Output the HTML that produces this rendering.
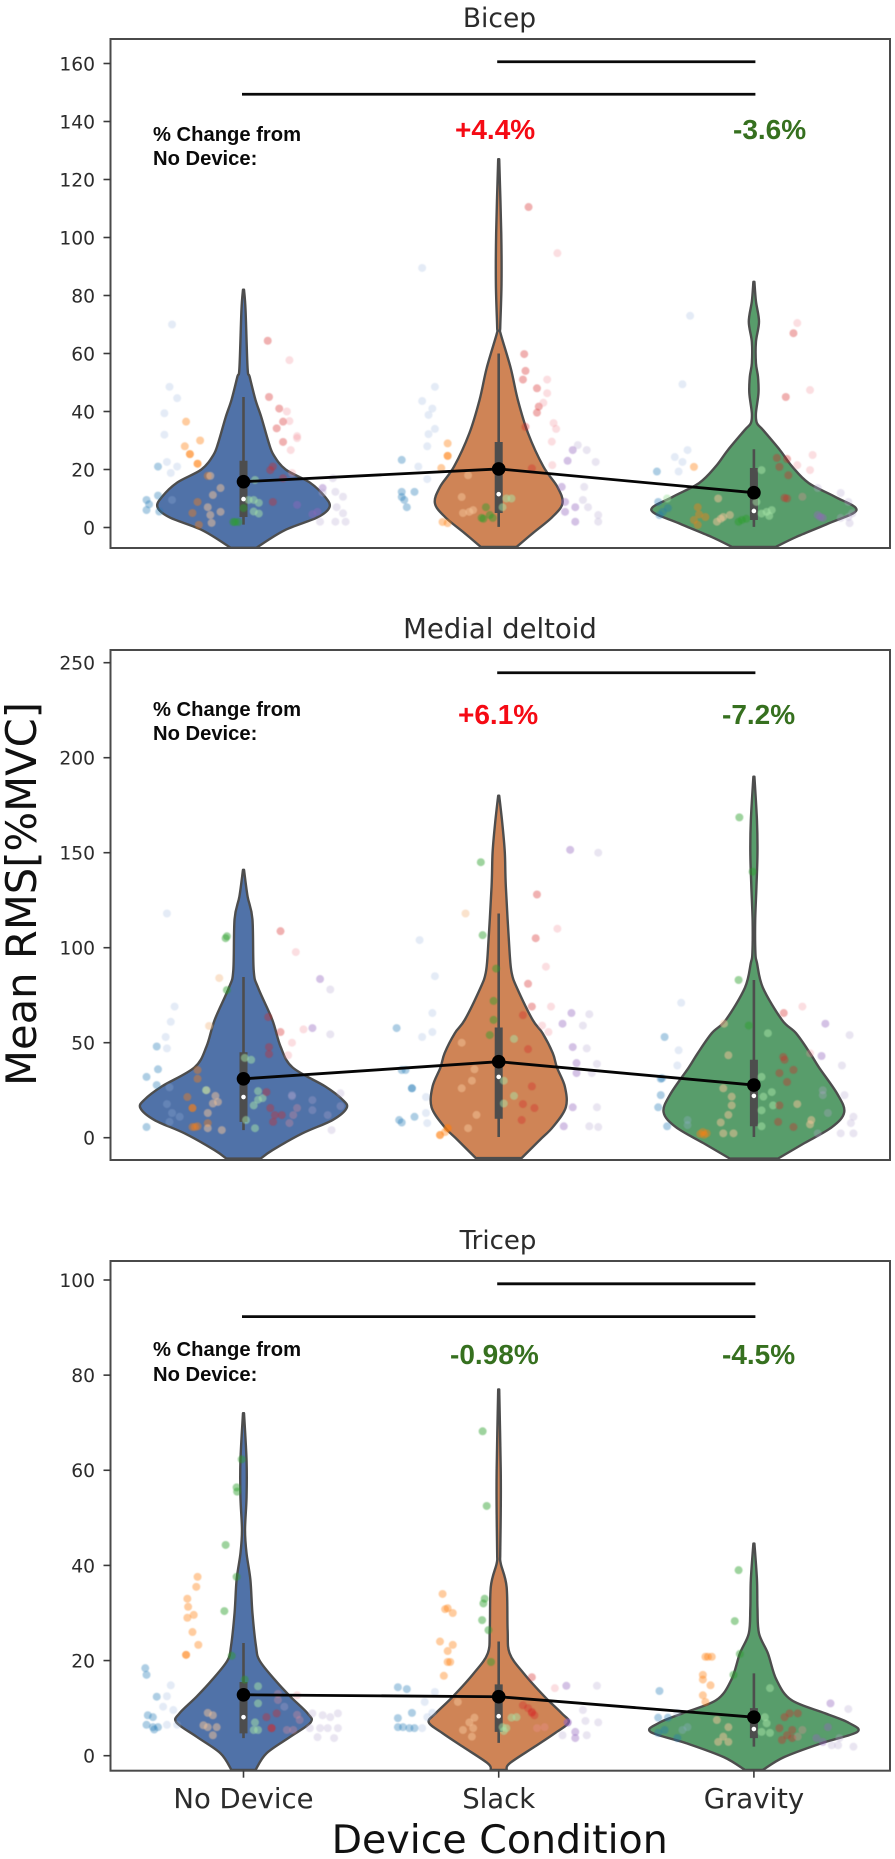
<!DOCTYPE html>
<html lang="en">
<head>
<meta charset="utf-8">
<title>Mean RMS by device condition</title>
<style>
html,body{margin:0;padding:0;background:#fff;}
svg{display:block;filter:blur(0.35px);}
.dj{font-family:"DejaVu Sans",sans-serif;fill:#2b2b2b;}
.lb{font-family:"Liberation Sans",Arial,sans-serif;font-weight:bold;}
.note{font-size:20.2px;fill:#0a0a0a;}
.pct{font-size:28px;}
.pts{filter:blur(0.4px);}
</style>
</head>
<body>
<svg id="chart" xmlns="http://www.w3.org/2000/svg" width="895" height="1859" viewBox="0 0 895 1859">
  <rect x="0" y="0" width="895" height="1859" fill="#ffffff"/>

  <g id="panel-bicep"></g>
  <g id="panel-deltoid"></g>
  <g id="panel-tricep"></g>

  <text class="dj" x="499.5" y="27" font-size="26.5" text-anchor="middle">Bicep</text>
  <text class="dj" x="500" y="638" font-size="27.5" text-anchor="middle">Medial deltoid</text>
  <text class="dj" x="498" y="1249" font-size="26" text-anchor="middle">Tricep</text>

  <g>
    <text class="lb note" x="153" y="141">% Change from</text>
    <text class="lb note" x="153" y="165">No Device:</text>
    <text class="lb pct" x="455" y="139" fill="#f50a14">+4.4%</text>
    <text class="lb pct" x="733" y="139" fill="#36701f">-3.6%</text>
  </g>
  <g>
    <text class="lb note" x="153" y="716">% Change from</text>
    <text class="lb note" x="153" y="740">No Device:</text>
    <text class="lb pct" x="458" y="724" fill="#f50a14">+6.1%</text>
    <text class="lb pct" x="722" y="724" fill="#36701f">-7.2%</text>
  </g>
  <g>
    <text class="lb note" x="153" y="1356">% Change from</text>
    <text class="lb note" x="153" y="1381">No Device:</text>
    <text class="lb pct" x="450" y="1364" fill="#36701f">-0.98%</text>
    <text class="lb pct" x="722" y="1364" fill="#36701f">-4.5%</text>
  </g>

  <text class="dj" x="243.5" y="1808" font-size="27.5" text-anchor="middle">No Device</text>
  <text class="dj" x="498.7" y="1808" font-size="27.5" text-anchor="middle">Slack</text>
  <text class="dj" x="754" y="1808" font-size="27.5" text-anchor="middle">Gravity</text>
  <text class="dj" x="499.7" y="1853" font-size="39.5" text-anchor="middle" style="fill:#111">Device Condition</text>
  <text class="dj" transform="translate(36 894) rotate(-90)" x="0" y="0" font-size="41.7" text-anchor="middle" style="fill:#111">Mean RMS[%MVC]</text>
</svg>

<script>
/* ---------- tick labels and shared categories ---------- */
const categories = ['No Device', 'Slack', 'Gravity'];
const bicepTicks = [0, 20, 40, 60, 80, 100, 120, 140, 160];
const deltoidTicks = [0, 50, 100, 150, 200, 250];
const tricepTicks = [0, 20, 40, 60, 80, 100];

/* ---------- mean / box statistics, one value per category ---------- */
const bicepMeans = [15.8, 20.2, 12];
const bicepMedians = [9.8, 11.5, 5.7];
const bicepQ1 = [3.6, 5, 2.6];
const bicepQ3 = [23, 29.5, 20.5];
const bicepWhiskerLow = [1, 0.2, 0.2];
const bicepWhiskerHigh = [45, 60, 27];

const deltoidMeans = [31, 40, 27.7];
const deltoidMedians = [21.4, 32, 22];
const deltoidQ1 = [8.3, 10, 6];
const deltoidQ3 = [45, 58, 41];
const deltoidWhiskerLow = [4, 0.4, 0.4];
const deltoidWhiskerHigh = [84.6, 118, 83];

const tricepMeans = [12.8, 12.4, 8.1];
const tricepMedians = [8.1, 8.3, 5.6];
const tricepQ1 = [4.7, 5, 3.7];
const tricepQ3 = [15.5, 15, 10];
const tricepWhiskerLow = [3.7, 2.7, 1.9];
const tricepWhiskerHigh = [23.7, 24, 17.3];

/* ---------- significance bars: [from category, to category, height in %MVC] ---------- */
const bicepSigBars = [[0, 2, 149.4], [1, 2, 160.6]];
const deltoidSigBars = [[1, 2, 244.7]];
const tricepSigBars = [[0, 2, 92.3], [1, 2, 99.2]];

/* ---------- violin density profiles: level (%MVC) and half-width (category units) ---------- */
const bicepNoDeviceLevels = [82, 75, 55, 52, 44, 38, 29.5, 25, 20, 15.5, 10.5, 7, 3.5, -1, -7];
const bicepNoDeviceWidths = [0.002, 0.008, 0.016, 0.024, 0.047, 0.07, 0.098, 0.118, 0.165, 0.26, 0.32, 0.337, 0.29, 0.16, 0.05];
const bicepSlackLevels = [127, 101.5, 84, 69, 67, 55, 44, 32.5, 21, 14, 8.4, 3.6, -2, -6.7];
const bicepSlackWidths = [0.002, 0.01, 0.011, 0.006, 0.007, 0.047, 0.075, 0.115, 0.175, 0.23, 0.25, 0.21, 0.133, 0.07];
const bicepGravityLevels = [84.7, 78, 71, 64, 56.7, 52, 46.4, 39.4, 36, 33.6, 26.7, 21, 15.3, 10.5, 6, 1.5, -3.3, -6.7];
const bicepGravityWidths = [0.002, 0.008, 0.02, 0.008, 0.008, 0.016, 0.018, 0.008, 0.012, 0.036, 0.102, 0.15, 0.215, 0.32, 0.402, 0.295, 0.165, 0.086];

const deltoidNoDeviceLevels = [141, 127, 115, 88, 79, 62, 48, 37, 27, 20, 15.6, 9.3, 2.3, -6.5, -11];
const deltoidNoDeviceWidths = [0.002, 0.016, 0.035, 0.04, 0.057, 0.113, 0.145, 0.192, 0.32, 0.388, 0.404, 0.349, 0.231, 0.114, 0.067];
const deltoidSlackLevels = [180, 165.6, 150, 132, 97, 86.6, 79, 62, 55, 44.5, 37, 27, 16, 5.6, -1.2, -10.7];
const deltoidSlackWidths = [0.002, 0.014, 0.024, 0.028, 0.043, 0.051, 0.071, 0.133, 0.172, 0.212, 0.228, 0.259, 0.263, 0.212, 0.161, 0.09];
const deltoidGravityLevels = [190, 167, 150, 132, 114, 97, 92, 79, 62, 55, 44.5, 37, 23, 13.5, 5.6, -3, -11];
const deltoidGravityWidths = [0.002, 0.012, 0.014, 0.01, 0.005, 0.006, 0.012, 0.035, 0.11, 0.165, 0.22, 0.255, 0.327, 0.354, 0.306, 0.196, 0.094];

const tricepNoDeviceLevels = [72, 62, 54.4, 47.4, 42.5, 37, 30, 23, 20, 16, 12.4, 8.9, 7, 4, 0.5, -3];
const tricepNoDeviceWidths = [0.002, 0.012, 0.012, 0.006, 0.012, 0.027, 0.035, 0.049, 0.063, 0.122, 0.184, 0.251, 0.263, 0.184, 0.09, 0.047];
const tricepSlackLevels = [77, 60, 51, 42.5, 40.4, 35.5, 26.4, 21.5, 17.3, 12.4, 8.9, 7, 4.7, 1.9, -1.6, -3];
const tricepSlackWidths = [0.002, 0.008, 0.008, 0.006, 0.008, 0.031, 0.035, 0.043, 0.098, 0.18, 0.247, 0.274, 0.219, 0.141, 0.043, 0.031];
const tricepGravityLevels = [44.6, 37, 31, 25.7, 21.5, 16, 11.7, 8.9, 6.9, 5, 2.6, -0.3, -3];
const tricepGravityWidths = [0.002, 0.012, 0.014, 0.02, 0.055, 0.088, 0.147, 0.28, 0.372, 0.405, 0.263, 0.118, 0.035];

/* ---------- raw points: [subject, jitter (category units), value %MVC] ---------- */
const bicepNoDevicePoints = [
[0,-.335,21],[0,-.38,9.5],[0,-.38,6],[0,-.335,11],[0,-.33,5.5],[0,-.37,8],
[1,-.28,70],[1,-.29,48.5],[1,-.26,44.6],[1,-.31,39.4],[1,-.31,32],[1,-.3,22.6],[1,-.285,18.8],[1,-.26,21],[1,-.28,9.5],
[2,-.225,36.5],[2,-.17,30],[2,-.23,28],[2,-.21,25.3],[2,-.21,25.3],[2,-.18,22],[2,-.18,22],[2,-.14,17.8],[2,-.18,8.8],[2,-.2,5],[2,-.175,.9],
[3,-.13,17.8],[3,-.09,13.6],[3,-.12,11.2],[3,-.14,7],[3,-.13,4.3],[3,-.09,5.4],[3,-.125,1.6],
[4,-.033,1.9],[4,-.04,1.9],[4,-.02,1.9],[4,0,6.7],[5,.04,9.5],[5,.06,8.5],[5,.04,5.5],[5,.06,4.8],[5,.02,9.5],[5,.045,16.4],
[6,.095,64.4],[6,.1,45],[6,.14,41],[6,.155,36.5],[6,.13,34.2],[6,.155,29.5],[6,.115,21],[6,.105,19.8],[6,.155,17],[6,.115,8.8],
[7,.18,57.7],[7,.17,40],[7,.18,36.7],[7,.21,31.5],[7,.21,30.8],[7,.185,26.7],[7,.19,18.8],
[8,.21,7.8],[8,.29,5.4],[8,.27,4.6],[8,.31,13.6],[9,.35,17],[9,.36,12.3],[9,.39,10.6],[9,.365,7],[9,.39,4.9],[9,.4,2],[9,.36,2],[9,.3,2],[9,.31,12]
];
const bicepSlackPoints = [
[1,-.3,89.5],[1,-.25,48.5],[1,-.3,43.6],[1,-.26,41],[1,-.275,38.8],[1,-.25,34],[1,-.275,32.2],[1,-.28,28],[1,-.315,21],[1,-.28,16.7],
[0,-.38,23.3],[0,-.38,12.3],[0,-.37,9.5],[0,-.38,10.5],[0,-.36,7],[0,-.33,12.3],
[2,-.2,29],[2,-.2,24.7],[2,-.2,24.7],[2,-.225,20.5],[3,-.12,18],[3,-.145,10.5],[2,-.22,1.9],[2,-.2,1.5],[3,-.14,5],[3,-.115,5.4],[3,-.1,6],
[4,-.05,7],[4,-.035,4.3],[4,-.067,3.3],[4,-.023,3.3],[4,-.06,3],[5,.05,10],[5,.015,7],[5,.03,10],
[6,.117,110.5],[6,.1,59.8],[6,.105,54],[6,.095,51],[6,.15,48],[6,.157,41.7],[6,.15,39.6],[6,.105,34.7],[6,.13,20.4],
[7,.23,94.6],[7,.19,51],[7,.19,46.3],[7,.175,43],[7,.215,36],[7,.225,34],[7,.208,29.6],[7,.21,21.5],
[9,.31,28.4],[8,.29,26.7],[9,.345,26.7],[8,.27,23],[9,.38,22.6],[8,.247,14],[9,.335,14],[8,.26,8.8],[8,.26,5.4],[8,.3,7],[9,.33,9.5],[9,.35,7],[8,.3,2],[9,.39,4.3],[9,.39,2]
];
const bicepGravityPoints = [
[1,-.25,73],[1,-.28,49.4],[1,-.26,26.7],[1,-.31,24.3],[1,-.28,22.6],[1,-.295,19.3],
[0,-.38,19.3],[0,-.375,8.8],[0,-.357,5.4],[0,-.337,6.7],[0,-.37,4.3],
[2,-.235,20.9],[2,-.22,7],[2,-.215,4.5],[2,-.22,.9],[2,-.19,3.6],[2,-.235,2.6],[3,-.145,2],[3,-.12,3.6],[3,-.094,4.3],[3,-.14,10],[3,-.13,3],
[4,-.047,2.6],[4,-.03,3],[4,-.06,2],[5,.03,19.8],[5,.01,8.8],[5,.05,5.4],[5,.03,4.8],[5,.07,6],[5,.06,4],[5,-.34,10],
[7,.17,70.5],[6,.155,67],[7,.22,47.4],[6,.125,45],[7,.23,25],[6,.09,24],[6,.13,23.6],[6,.1,20.9],[6,.135,18],[7,.17,21.5],[7,.22,19.8],[6,.12,10.2],[6,.13,10],[7,.19,10.6],
[9,.25,13.6],[9,.34,11.9],[8,.26,3.6],[8,.27,3.3],[8,.25,4.3],[9,.34,3.3],[9,.37,3.6],[9,.385,4.9],[9,.37,8.8],[9,.375,1.5]
];
const deltoidNoDevicePoints = [
[0,-.34,48],[0,-.335,36],[0,-.38,32],[0,-.34,27.7],[0,-.38,5.6],
[1,-.3,118],[1,-.27,69],[1,-.285,61],[1,-.305,53],[1,-.3,47],[1,-.29,26.5],[1,-.3,17.7],[1,-.28,13],[1,-.25,11],[1,-.29,8.3],
[3,-.095,84],[3,-.135,58.8],[2,-.18,35.6],[2,-.18,31],[2,-.22,21.4],[2,-.2,15.6],[2,-.2,15.6],[2,-.19,5.6],[2,-.2,5.6],[2,-.18,6],[2,-.14,7.7],
[3,-.145,25],[3,-.11,22],[3,-.1,18.8],[3,-.12,18],[3,-.14,13],[3,-.14,5],[3,-.085,4],
[4,-.065,106],[4,-.07,105],[4,-.065,77.7],[5,.005,42],[5,.03,41],[5,-.147,25],[5,.01,9.3],[5,.045,5],[5,.04,17],[5,.057,20],[5,.075,20.8],[5,.057,24.5],
[6,.145,108.7],[7,.205,97.7],[6,.097,63.5],[6,.145,55.6],[7,.19,50],[7,.235,57],[6,.1,47.7],[6,.1,44],[7,.175,43.4],[6,.09,24],[6,.105,15.6],[6,.123,11.9],[6,.15,11.9],[6,.116,8.3],[7,.21,15.6],[7,.195,11.9],[7,.18,7.7],
[8,.3,83.5],[9,.34,78],[8,.27,57.7],[9,.34,54.4],[9,.19,22.4],[9,.19,21.8],[9,.27,19.8],[9,.27,14.5],[9,.38,23.4],[9,.38,16.6],[9,.33,11.9],[9,.345,4]
];
const deltoidSlackPoints = [
[0,-.4,57.7],[0,-.38,35.6],[0,-.365,35.6],[0,-.34,26],[0,-.34,26],[0,-.39,9.3],[0,-.38,8],[0,-.33,11],
[1,-.31,104],[1,-.25,85],[1,-.26,65.6],[1,-.26,55.6],[1,-.3,53],[1,-.285,21.4],[1,-.285,13],[1,-.28,7.7],
[2,-.23,1.4],[2,-.23,1.4],[2,-.21,3],[2,-.2,5],[2,-.2,5],[3,-.13,118],[3,-.145,50],[3,-.105,30],[3,-.145,26],[3,-.087,12],[3,-.12,5],[3,-.095,36],
[4,-.07,145],[4,-.063,106.6],[4,-.01,89],[4,-.02,72],[4,-.035,54],[4,-.02,62],[5,.06,52],[5,.02,30],[5,.06,22],[5,.02,18],
[6,.15,128],[6,.145,105],[7,.23,110],[7,.185,90],[6,.115,81],[6,.13,69],[7,.205,69],[6,.095,64.5],[7,.17,59],[7,.195,55.6],[6,.115,46.6],[6,.13,27],[6,.095,17.7],[6,.14,15.6],[6,.09,9.3],
[8,.28,151.5],[9,.39,150],[8,.285,65.6],[9,.355,65],[8,.25,60],[9,.33,59],[8,.29,47.7],[9,.345,47],[8,.305,39.3],[8,.305,34],[9,.385,38.8],[9,.365,34],[8,.29,16],[9,.385,16],[8,.255,6],[9,.355,6],[9,.39,5.6]
];
const deltoidGravityPoints = [
[0,-.35,53],[0,-.36,31.3],[0,-.365,31],[0,-.365,22.4],[0,-.375,16],[0,-.34,6],
[1,-.285,71],[1,-.295,46],[1,-.3,38],[1,-.26,9.3],[1,-.26,6.6],
[2,-.21,2],[2,-.185,2.3],[2,-.2,3],[2,-.195,1.5],[3,-.117,60],[3,-.1,43.4],[3,-.12,26],[3,-.087,21.6],[3,-.087,17],[3,-.1,12],[3,-.13,8],[3,-.12,2.3],[3,-.08,2.3],
[4,-.057,168.6],[4,-.005,140],[4,-.06,83],[4,-.02,59],[5,.055,55],[5,.03,32],[5,.07,24],[5,.037,21.6],[5,.075,17],[5,.03,14.4],[5,.03,6],
[6,.117,65.6],[7,.19,69],[7,.22,44.4],[6,.115,42.5],[6,.12,41],[6,.155,35.7],[6,.1,34],[6,.13,29.3],[6,.1,17],[6,.095,8.3],[6,.155,5.6],[3,.17,17.7],[3,.225,9.3],[3,.22,7],
[8,.28,60],[9,.375,54],[9,.345,38],[8,.265,43],[9,.27,25],[9,.27,22.4],[9,.29,13],[9,.355,22.4],[9,.39,11],[9,.38,7.7],[9,.34,2.3],[9,.39,2.3],[9,.25,2.3]
];
const tricepNoDevicePoints = [
[0,-.385,18.4],[0,-.38,17],[0,-.34,12.4],[0,-.375,8.5],[0,-.355,8.1],[0,-.38,6.5],[0,-.355,6],[0,-.335,6],[0,-.35,5.5],
[1,-.285,14.8],[1,-.3,12.5],[1,-.315,10.3],[1,-.275,9.6],[1,-.3,6.5],[1,-.26,6.5],
[2,-.18,37.6],[2,-.185,35.5],[2,-.22,33],[2,-.217,31.3],[2,-.22,29],[2,-.195,29.6],[2,-.2,26],[2,-.177,23.3],[2,-.225,21.2],[2,-.225,21.2],
[3,-.14,9],[3,-.12,8.5],[3,-.157,6.4],[3,-.14,6],[3,-.105,6],[3,-.12,4.3],
[4,-.007,62.3],[4,-.027,56.4],[4,-.025,55.5],[4,-.07,44.3],[4,-.027,37.6],[4,-.075,30.4],[4,-.046,21],[4,.005,16],[5,.045,7],[5,.04,5.4],[5,.057,5.4],[5,.057,14.6],[5,.057,11],
[6,.11,5.8],[6,.11,5.8],[6,.13,8.9],[6,.09,8.1],[7,.135,13],[7,.135,11.7],[7,.21,8.6],[7,.22,7.5],[7,.17,5.4],[7,.195,5.4],[7,.21,12.7],
[9,.16,10.3],[9,.27,8.9],[9,.31,8.5],[9,.34,8.1],[9,.37,8.9],[9,.26,5.8],[9,.3,5.8],[9,.33,5.8],[9,.37,5.8],[9,.29,3.9],[9,.355,3.7]
];
const tricepSlackPoints = [
[0,-.395,14.4],[0,-.36,14],[0,-.34,9],[0,-.395,7.9],[0,-.395,6],[0,-.375,6],[0,-.35,5.8],[0,-.33,5.8],
[1,-.25,13.4],[1,-.29,11.3],[1,-.28,8.1],[1,-.3,5.8],[1,-.26,9],
[2,-.22,34],[2,-.21,30.8],[2,-.18,30],[2,-.2,31],[2,-.23,24],[2,-.18,23.3],[2,-.2,22],[2,-.2,19.7],[2,-.19,19.7],[2,-.215,16.8],
[3,-.115,7],[3,-.1,5.8],[3,-.14,5.4],[3,-.105,4],[3,-.095,8],[3,-.16,11.3],
[4,-.063,68.2],[4,-.047,52.5],[4,-.055,33],[4,-.06,32],[4,-.065,28.5],[4,-.04,26.4],[4,-.03,19.7],[4,.003,12.4],[5,.015,6],[5,.03,5.8],[5,.05,8],[5,.07,8.1],[5,.02,5.2],
[6,.13,16.5],[6,.13,9.2],[6,.115,10],[6,.14,8.5],[6,.095,10.6],[6,.13,9],[7,.22,14.2],[7,.18,6],[7,.15,5.8],
[8,.265,14.7],[9,.385,14.7],[9,.33,9.6],[8,.27,7],[8,.27,7],[9,.34,7.3],[9,.39,7],[8,.3,5],[8,.3,3.7],[9,.345,4.3],[9,.25,4.3]
];
const tricepGravityPoints = [
[0,-.37,13.6],[0,-.375,8],[0,-.337,8],[1,-.3,9],[0,-.375,4.8],[0,-.35,5.4],[0,-.3,3.7],[1,-.28,5.4],[1,-.26,6],
[2,-.18,20.8],[2,-.165,20.8],[2,-.19,20.8],[2,-.2,17],[2,-.2,16],[2,-.17,14.8],[2,-.2,12.7],[2,-.19,11.3],
[3,-.145,7.5],[3,-.1,6],[3,-.14,2.9],[3,-.1,2.9],[3,-.12,4],
[4,-.06,39],[4,-.075,28.3],[4,-.055,21.4],[4,-.08,17],[5,.063,14.2],[5,.043,8.1],[5,.05,6.8],[5,.03,5],[5,.063,4.8],
[6,.12,8.1],[6,.172,8.9],[6,.14,8.9],[6,.1,5.8],[6,.15,5.4],[7,.19,5.4],[6,.11,3.3],[6,.15,3.7],[7,.172,4],[6,.13,4.3],
[8,.3,11],[9,.37,9.8],[8,.29,6],[8,.245,3.7],[8,.27,2.9],[9,.305,2.2],[9,.335,3.7],[9,.39,1.9],[9,.33,2.2]
];

/* ---------- axis functions ---------- */
const NS = 'http://www.w3.org/2000/svg';
const xOf = function (category) { return 243.5 + 255.2 * category; };
const xSpan = function (units) { return 255.2 * units; };
const linearY = function (zeroPx, pxPerUnit) {
  return function (value) { return zeroPx - pxPerUnit * value; };
};

const subjectFill = ['#1f77b4', '#9db4dc', '#ff7f0e', '#f5c59a', '#2ca02c', '#a8e6a8', '#d62728', '#f2919d', '#9467bd', '#b7a9d0'];
const subjectAlpha = [0.36, 0.27, 0.4, 0.5, 0.46, 0.5, 0.36, 0.3, 0.4, 0.3];
const violinFill = ['#5072a8', '#cf8456', '#589d6b'];
const violinKeys = ['no-device', 'slack', 'gravity'];

function svgEl(tag, attrs, parent) {
  const el = document.createElementNS(NS, tag);
  for (const key in attrs) { el.setAttribute(key, attrs[key]); }
  parent.appendChild(el);
  return el;
}

/* Catmull-Rom spline through points as cubic segments */
function spline(points, move) {
  let d = (move ? 'M' : 'L') + points[0][0].toFixed(2) + ' ' + points[0][1].toFixed(2);
  for (let i = 0; i < points.length - 1; i++) {
    const p0 = points[Math.max(0, i - 1)];
    const p1 = points[i];
    const p2 = points[i + 1];
    const p3 = points[Math.min(points.length - 1, i + 2)];
    const c1x = p1[0] + (p2[0] - p0[0]) / 6;
    const c1y = p1[1] + (p2[1] - p0[1]) / 6;
    const c2x = p2[0] - (p3[0] - p1[0]) / 6;
    const c2y = p2[1] - (p3[1] - p1[1]) / 6;
    d += 'C' + c1x.toFixed(2) + ' ' + c1y.toFixed(2) + ' ' + c2x.toFixed(2) + ' ' + c2y.toFixed(2) + ' ' + p2[0].toFixed(2) + ' ' + p2[1].toFixed(2);
  }
  return d;
}

function violinPath(category, levels, widths, y) {
  const cx = xOf(category);
  const right = levels.map(function (level, i) { return [cx + xSpan(widths[i]), y(level)]; });
  const left = levels.map(function (level, i) { return [cx - xSpan(widths[i]), y(level)]; }).reverse();
  return spline(right, true) + spline(left, false) + 'Z';
}

function drawPanel(cfg) {
  const host = document.getElementById(cfg.host);
  const y = cfg.y;
  const frame = { x: 110.5, w: 779.5, top: cfg.top, bottom: cfg.bottom };

  const defs = svgEl('defs', {}, host);
  const clip = svgEl('clipPath', { id: 'clip-' + cfg.key }, defs);
  svgEl('rect', { x: frame.x, y: frame.top, width: frame.w, height: frame.bottom - frame.top }, clip);

  const plot = svgEl('g', { 'clip-path': 'url(#clip-' + cfg.key + ')' }, host);
  
  

  categories.forEach(function (name, i) {
    const violin = svgEl('path', {
      d: violinPath(i, cfg.levels[i], cfg.widths[i], y),
      fill: violinFill[i], stroke: '#4d4d4d', 'stroke-width': 2.4, 'stroke-linejoin': 'round'
    }, plot);
    
    

    const whisker = svgEl('line', {
      x1: xOf(i), x2: xOf(i), y1: y(cfg.whiskerHigh[i]), y2: y(cfg.whiskerLow[i]),
      stroke: '#4d4d4d', 'stroke-width': 2.6
    }, plot);
    
    

    const box = svgEl('line', {
      x1: xOf(i), x2: xOf(i), y1: y(cfg.q3[i]), y2: y(cfg.q1[i]),
      stroke: '#4d4d4d', 'stroke-width': 8
    }, plot);
    
    
  });

  const pointLayer = svgEl('g', { 'class': 'pts' }, plot);
  
  
  categories.forEach(function (name, i) {
    cfg.points[i].forEach(function (pt) {
      const dot = svgEl('circle', {
        cx: xOf(i) + xSpan(pt[1]), cy: y(pt[2]), r: 4,
        fill: subjectFill[pt[0]], 'fill-opacity': subjectAlpha[pt[0]]
      }, pointLayer);
      
      
    });
  });

  categories.forEach(function (name, i) {
    const median = svgEl('circle', { cx: xOf(i), cy: y(cfg.medians[i]), r: 2.3, fill: '#ffffff' }, plot);
    
    
  });

  const meanLine = svgEl('polyline', {
    points: cfg.means.map(function (m, i) { return xOf(i) + ',' + y(m); }).join(' '),
    fill: 'none', stroke: '#050505', 'stroke-width': 2.8
  }, plot);
  
  

  cfg.means.forEach(function (m, i) {
    const mean = svgEl('circle', { cx: xOf(i), cy: y(m), r: 6.8, fill: '#000000' }, plot);
    
    
  });

  cfg.sigBars.forEach(function (bar) {
    const sig = svgEl('line', {
      x1: xOf(bar[0]) - 1.5, x2: xOf(bar[1]) + 1.5, y1: y(bar[2]), y2: y(bar[2]),
      stroke: '#0a0a0a', 'stroke-width': 2.8
    }, plot);
    
    
  });

  const border = svgEl('rect', {
    x: frame.x, y: frame.top, width: frame.w, height: frame.bottom - frame.top,
    fill: 'none', stroke: '#4a4a4a', 'stroke-width': 2
  }, host);
  
  

  cfg.ticks.forEach(function (tick) {
    const mark = svgEl('line', {
      x1: frame.x - 7, x2: frame.x, y1: y(tick), y2: y(tick), stroke: '#3a3a3a', 'stroke-width': 1.6
    }, host);
    
    

    const label = svgEl('text', {
      'class': 'dj', x: 95, y: y(tick) + 6.9, 'font-size': 18.7, 'text-anchor': 'end'
    }, host);
    label.textContent = String(tick);
    
    
  });

  if (cfg.xTicks) {
    categories.forEach(function (name, i) {
      const mark = svgEl('line', {
        x1: xOf(i), x2: xOf(i), y1: frame.bottom, y2: frame.bottom + 7, stroke: '#3a3a3a', 'stroke-width': 1.6
      }, host);
      
      
    });
  }
}

drawPanel({
  host: 'panel-bicep', key: 'bicep', top: 39, bottom: 548, y: linearY(527.5, 2.9), ticks: bicepTicks,
  levels: [bicepNoDeviceLevels, bicepSlackLevels, bicepGravityLevels],
  widths: [bicepNoDeviceWidths, bicepSlackWidths, bicepGravityWidths],
  points: [bicepNoDevicePoints, bicepSlackPoints, bicepGravityPoints],
  means: bicepMeans, medians: bicepMedians, q1: bicepQ1, q3: bicepQ3,
  whiskerLow: bicepWhiskerLow, whiskerHigh: bicepWhiskerHigh, sigBars: bicepSigBars, xTicks: false
});
drawPanel({
  host: 'panel-deltoid', key: 'deltoid', top: 650, bottom: 1160, y: linearY(1137.7, 1.9), ticks: deltoidTicks,
  levels: [deltoidNoDeviceLevels, deltoidSlackLevels, deltoidGravityLevels],
  widths: [deltoidNoDeviceWidths, deltoidSlackWidths, deltoidGravityWidths],
  points: [deltoidNoDevicePoints, deltoidSlackPoints, deltoidGravityPoints],
  means: deltoidMeans, medians: deltoidMedians, q1: deltoidQ1, q3: deltoidQ3,
  whiskerLow: deltoidWhiskerLow, whiskerHigh: deltoidWhiskerHigh, sigBars: deltoidSigBars, xTicks: false
});
drawPanel({
  host: 'panel-tricep', key: 'tricep', top: 1261, bottom: 1770.7, y: linearY(1755.7, 4.757), ticks: tricepTicks,
  levels: [tricepNoDeviceLevels, tricepSlackLevels, tricepGravityLevels],
  widths: [tricepNoDeviceWidths, tricepSlackWidths, tricepGravityWidths],
  points: [tricepNoDevicePoints, tricepSlackPoints, tricepGravityPoints],
  means: tricepMeans, medians: tricepMedians, q1: tricepQ1, q3: tricepQ3,
  whiskerLow: tricepWhiskerLow, whiskerHigh: tricepWhiskerHigh, sigBars: tricepSigBars, xTicks: true
});
</script>
</body>
</html>
